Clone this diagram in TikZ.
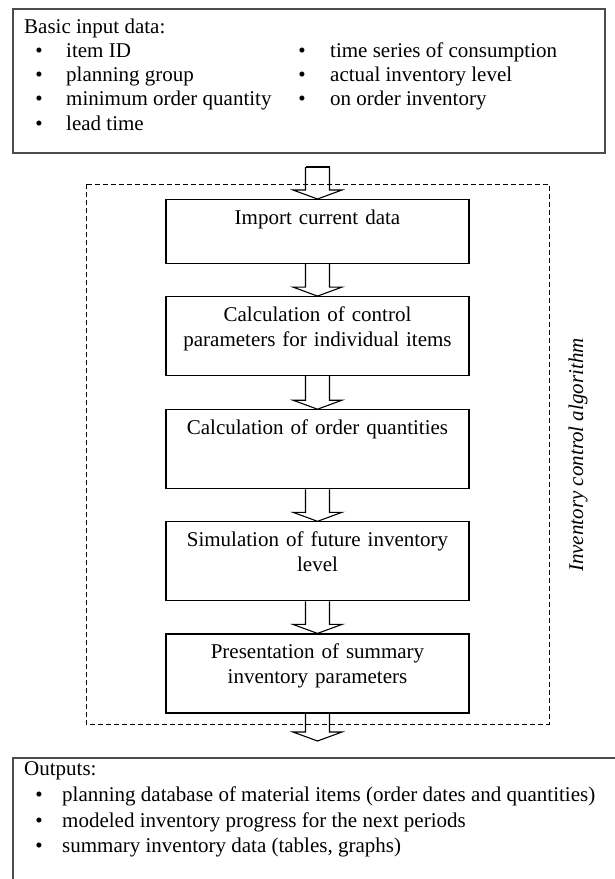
\documentclass[tikz,border=0pt]{standalone}
\usepackage{fontspec}
\setmainfont{Liberation Serif}
\usetikzlibrary{positioning}

\newcommand{\hollowarrow}[2]{%
  \draw[pfeil] ([xshift=-12pt]#1) -- ([xshift=-12pt,yshift=9pt]#2) -- ([xshift=-24.5pt,yshift=9pt]#2) -- (#2) -- ([xshift=24.5pt,yshift=9pt]#2) -- ([xshift=12pt,yshift=9pt]#2) -- ([xshift=12pt]#1);}

\begin{document}
\begin{tikzpicture}[x=1pt, y=-1pt,
      every node/.style={font=\fontsize{21}{25}\selectfont},
      frame/.style={draw=black!70, line width=1.6pt},
      stepbox/.style={draw, line width=1.1pt, anchor=north, inner xsep=4pt, inner ysep=0pt, text width=295pt, align=center, text height=25pt, text depth=54pt},
      txt/.style={anchor=base west, inner sep=0pt},
      dot/.style={anchor=base, inner sep=0pt},
      pfeil/.style={line width=1.1pt, line join=miter},
      node distance=32pt]

\useasboundingbox (0,0) rectangle (614,879);

\node[frame, anchor=north west, minimum width=592pt, minimum height=144pt] (inbox) at (12,8) {};
\node[txt] (basic) at (24,33) {Basic input data:};
\foreach \t [count=\i] in {item ID, planning group, minimum order quantity, lead time} {
  \node[dot] (ldot\i) at (39,33+24.25*\i) {\textbullet};
  \node[txt] (left\i) at (66,33+24.25*\i) {\t};
}
\foreach \t [count=\i] in {time series of consumption, actual inventory level, on order inventory} {
  \node[dot] (rdot\i) at (302,33+24.25*\i) {\textbullet};
  \node[txt] (right\i) at (330,33+24.25*\i) {\t};
}

\draw[dash pattern=on 5pt off 3pt, line width=1pt] (86,184) rectangle (549,724);
\node[rotate=90, font=\fontsize{21}{25}\selectfont\itshape] (alg) at (578,455) {Inventory control algorithm};

\node[stepbox, text depth=39pt] (imp) at (317.5,199) {Import current data};
\node[stepbox, below=of imp] (ctrl) {Calculation of control\\parameters for individual items};
\node[stepbox, below=33pt of ctrl] (qty) {Calculation of order quantities};
\node[stepbox, below=of qty] (sim) {Simulation of future inventory\\level};
\node[stepbox, below=of sim] (pres) {Presentation of summary\\inventory parameters};

\coordinate (in) at (317.5,167);
\coordinate (out) at (317.5,741);
\hollowarrow{in}{imp.north}
\draw[pfeil] ([xshift=-12pt]in) -- ([xshift=12pt]in);
\hollowarrow{imp.south}{ctrl.north}
\hollowarrow{ctrl.south}{qty.north}
\hollowarrow{qty.south}{sim.north}
\hollowarrow{sim.south}{pres.north}
\hollowarrow{pres.south}{out}

\node[frame, anchor=north west, minimum width=620pt, minimum height=150pt] (outbox) at (12,757) {};
\node[txt] (outputs) at (24,775) {Outputs:};
\foreach \t [count=\i] in {planning database of material items (order dates and quantities), modeled inventory progress for the next periods, {summary inventory data (tables, graphs)}} {
  \node[dot] (odot\i) at (39,776+25.5*\i) {\textbullet};
  \node[txt] (out\i) at (62,776+25.5*\i) {\t};
}

\end{tikzpicture}
\end{document}
